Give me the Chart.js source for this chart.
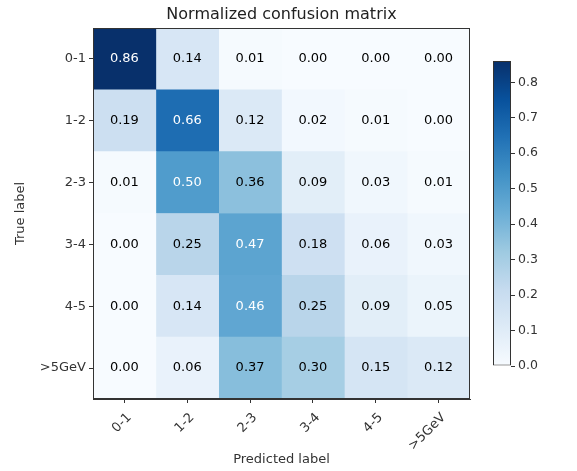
<!DOCTYPE html>
<html>
<head>
<meta charset="utf-8">
<script src="https://cdn.jsdelivr.net/npm/chart.js@4"></script>
<style>
  body { margin: 0; background: #fff; }
  #heat { position: absolute; left: 0; top: 0; }
  #bar { position: absolute; left: 485px; top: 50px; }
</style>
</head>
<body>
<canvas id="heat" width="577" height="471"></canvas>
<canvas id="bar" width="80" height="330"></canvas>
<script>
// etiquetas de filas (true) y columnas (predicted)
const trueLabels = ['0-1', '1-2', '2-3', '3-4', '4-5', '>5GeV'];
const predLabels = ['0-1', '1-2', '2-3', '3-4', '4-5', '>5GeV'];

// una fila por true label
const row01 = [0.86, 0.14, 0.01, 0.00, 0.00, 0.00];
const row12 = [0.19, 0.66, 0.12, 0.02, 0.01, 0.00];
const row23 = [0.01, 0.50, 0.36, 0.09, 0.03, 0.01];
const row34 = [0.00, 0.25, 0.47, 0.18, 0.06, 0.03];
const row45 = [0.00, 0.14, 0.46, 0.25, 0.09, 0.05];
const row5 = [0.00, 0.06, 0.37, 0.30, 0.15, 0.12];
const filas = [row01, row12, row23, row34, row45, row5];

const vmax = 0.86; // tope de la barra de color
const cbTicks = [0, 0.1, 0.2, 0.3, 0.4, 0.5, 0.6, 0.7, 0.8];

// mapa "Blues" de matplotlib
const blues = ['#f7fbff', '#deebf7', '#c6dbef', '#9ecae1', '#6baed6', '#4292c6', '#2171b5', '#08519c', '#08306b'];

function hex2rgb(h) {
    return [parseInt(h.slice(1, 3), 16), parseInt(h.slice(3, 5), 16), parseInt(h.slice(5, 7), 16)];
}
function colorBlues(t) {
    t = Math.max(0, Math.min(1, t));
    let p = t * (blues.length - 1);
    let i = Math.min(Math.floor(p), blues.length - 2);
    let f = p - i;
    let a = hex2rgb(blues[i]), b = hex2rgb(blues[i + 1]);
    let c = a.map((v, k) => Math.round(v + (b[k] - v) * f));
    return 'rgb(' + c.join(',') + ')';
}

const fuente = "'DejaVu Sans', sans-serif";
const gris = '#333';

// una serie por columna predicha, apiladas en horizontal
let series = predLabels.map((p, j) => ({
    label: p,
    data: trueLabels.map(() => 1),
    valores: filas.map(f => f[j]),
    backgroundColor: filas.map(f => colorBlues(f[j] / vmax)),
    borderWidth: 0,
    barPercentage: 1,
    categoryPercentage: 1
}));

const textoCeldas = {
    id: 'textoCeldas',
    afterDatasetsDraw(chart) {
        const ctx = chart.ctx;
        ctx.save();
        ctx.font = '13px ' + fuente;
        ctx.textAlign = 'center';
        ctx.textBaseline = 'middle';
        chart.data.datasets.forEach((ds, j) => {
            chart.getDatasetMeta(j).data.forEach((el, i) => {
                let v = ds.valores[i];
                ctx.fillStyle = v > vmax / 2 ? '#fff' : '#000';
                ctx.fillText(v.toFixed(2), (el.x + el.base) / 2, el.y);
            });
        });
        // marco del area
        const a = chart.chartArea;
        ctx.strokeStyle = gris;
        ctx.lineWidth = 1;
        ctx.strokeRect(a.left + 0.5, a.top + 0.5, a.right - a.left - 1, a.bottom - a.top - 1);
        ctx.restore();
    }
};

var grafica = new Chart(document.getElementById('heat'), {
    type: 'bar',
    data: { labels: trueLabels, datasets: series },
    plugins: [textoCeldas],
    options: {
        responsive: false,
        animation: false,
        indexAxis: 'y',
        layout: { padding: { left: 0, right: 107, top: 0, bottom: 0 } },
        plugins: {
            legend: { display: false },
            tooltip: { enabled: false },
            title: {
                display: true,
                text: 'Normalized confusion matrix',
                fullSize: false,
                color: '#222',
                font: { family: fuente, size: 16, weight: 'normal' },
                padding: { top: 5, bottom: 3.8 }
            }
        },
        scales: {
            x: {
                type: 'linear',
                stacked: true,
                min: 0,
                max: 6,
                afterBuildTicks: s => { s.ticks = predLabels.map((_, i) => ({ value: i + 0.5 })); },
                afterFit: s => { s.height = 72; },
                ticks: {
                    autoSkip: false,
                    minRotation: 45,
                    maxRotation: 45,
                    labelOffset: 5,
                    padding: 7,
                    color: gris,
                    font: { family: fuente, size: 13 },
                    callback: (v, i) => predLabels[i]
                },
                grid: { drawOnChartArea: false, tickLength: 4, color: gris },
                border: { display: true, color: gris },
                title: {
                    display: true,
                    text: 'Predicted label',
                    color: gris,
                    font: { family: fuente, size: 13 },
                    padding: { top: 4, bottom: 3.5 }
                }
            },
            y: {
                stacked: true,
                afterFit: s => { s.width = 93; },
                ticks: { color: gris, font: { family: fuente, size: 13 }, padding: 3 },
                grid: { offset: false, drawOnChartArea: false, tickLength: 4, color: gris },
                border: { display: true, color: gris },
                title: {
                    display: true,
                    text: 'True label',
                    color: gris,
                    font: { family: fuente, size: 13 },
                    padding: { top: 13, bottom: 0 }
                }
            }
        }
    }
});

// barra de color
var barraColor = new Chart(document.getElementById('bar'), {
    type: 'bar',
    data: {
        labels: [''],
        datasets: [{
            data: [vmax],
            backgroundColor: c => {
                const a = c.chart.chartArea;
                if (!a) return blues[4];
                const g = c.chart.ctx.createLinearGradient(0, a.bottom, 0, a.top);
                blues.forEach((b, k) => g.addColorStop(k / (blues.length - 1), b));
                return g;
            },
            borderColor: gris,
            borderWidth: 1,
            borderSkipped: false,
            inflateAmount: 0,
            barPercentage: 1,
            categoryPercentage: 1
        }]
    },
    options: {
        responsive: false,
        animation: false,
        layout: { padding: { left: 8, right: 0, top: 11, bottom: 14 } },
        plugins: { legend: { display: false }, tooltip: { enabled: false } },
        scales: {
            x: { display: false },
            y: {
                position: 'right',
                min: 0,
                max: vmax,
                afterBuildTicks: s => { s.ticks = cbTicks.map(v => ({ value: v })); },
                afterFit: s => { s.width = 54; },
                ticks: { color: gris, font: { family: fuente, size: 12.5 }, padding: 3, callback: v => v.toFixed(1) },
                grid: { drawOnChartArea: false, tickLength: 4, color: gris },
                border: { display: false }
            }
        }
    }
});
</script>
</body>
</html>
